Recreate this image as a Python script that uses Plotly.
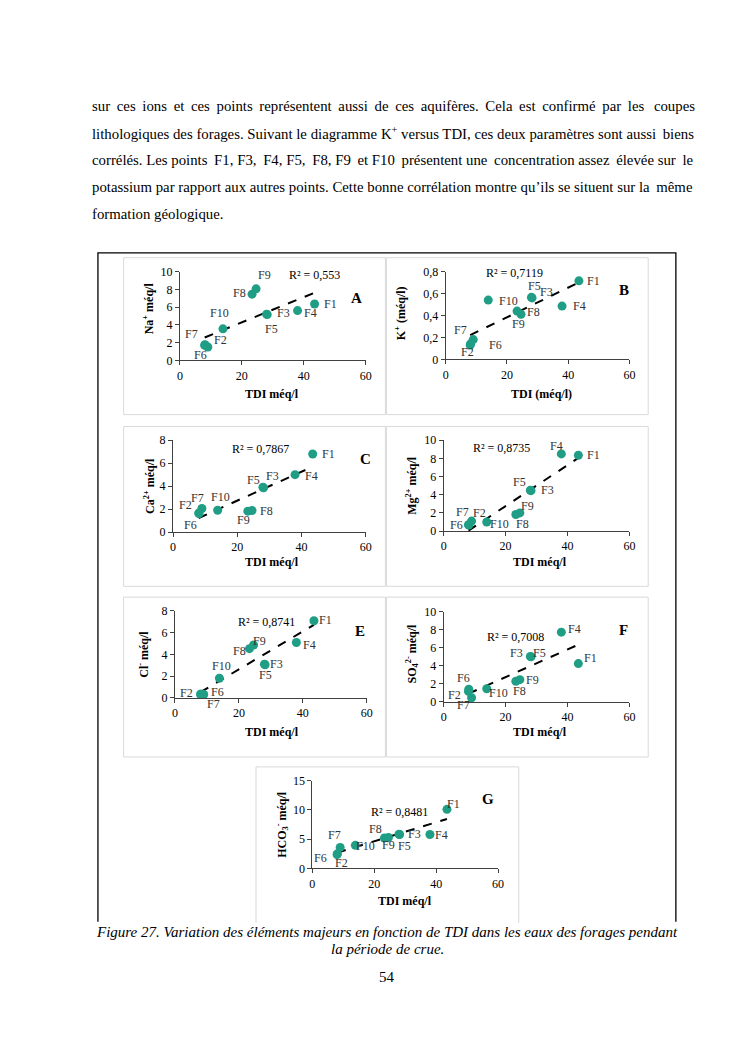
import re
import plotly.graph_objects as go
import numpy as np

W, H = 745, 1053
OFF = 8  # page body margin of the rendered html

# ---------------- data ----------------
wells = ["F1", "F2", "F3", "F4", "F5", "F6", "F7", "F8", "F9", "F10"]
tdi = [43.5, 8.0, 28.0, 38.0, 28.2, 8.1, 9.0, 23.3, 24.6, 13.9]
na = [6.35, 1.7, 5.2, 5.6, 5.15, 1.75, 1.5, 7.45, 8.05, 3.55]
k = [0.715, 0.13, 0.565, 0.485, 0.56, 0.14, 0.18, 0.44, 0.41, 0.54]
ca = [6.8, 1.65, 3.9, 5.0, 3.85, 1.6, 2.05, 1.82, 1.88, 1.9]
mg = [8.35, 0.7, 4.5, 8.5, 4.45, 0.65, 1.1, 1.82, 2.0, 1.0]
cl = [7.1, 0.3, 3.1, 5.1, 3.05, 0.35, 0.3, 4.53, 4.86, 1.8]
so4 = [4.25, 1.15, 5.05, 7.75, 5.0, 1.4, 0.45, 2.28, 2.46, 1.45]
hco3 = [10.1, 2.4, 5.85, 5.8, 5.8, 2.5, 3.6, 5.2, 5.3, 3.95]

r2_text = ["R² = 0,553", "R² = 0,7119", "R² = 0,7867", "R² = 0,8735",
           "R² = 0,8741", "R² = 0,7008", "R² = 0,8481"]
panel_letters = ["A", "B", "C", "D", "E", "F", "G"]
y_titles = ["Na<sup>+</sup> méq/l", "K<sup>+</sup> (méq/l)", "Ca<sup>2+</sup> méq/l",
            "Mg<sup>2+</sup> méq/l", "Cl<sup>-</sup> méq/l",
            "SO<sub>4</sub><sup>2-</sup> méq/l", "HCO<sub>3</sub><sup>-</sup> méq/l"]
x_titles = ["TDI méq/l", "TDI (méq/l)", "TDI méq/l", "TDI méq/l",
            "TDI méq/l", "TDI méq/l", "TDI méq/l"]
series = [na, k, ca, mg, cl, so4, hco3]
y_ranges = [(0, 10), (0, 0.8), (0, 8), (0, 10), (0, 8), (0, 10), (0, 15)]
y_dticks = [2, 0.2, 2, 2, 2, 2, 5]

paragraph = [
    "sur ces ions et ces points représentent aussi de ces aquifères. Cela est confirmé par les coupes",
    "lithologiques des forages. Suivant le diagramme K<sup>+</sup> versus TDI, ces deux paramètres sont aussi biens",
    "corrélés. Les points F1, F3, F4, F5, F8, F9 et F10 présentent une concentration assez élevée sur le",
    "potassium par rapport aux autres points. Cette bonne corrélation montre qu’ils se situent sur la même",
    "formation géologique.",
]
caption = ["Figure 27. Variation des éléments majeurs en fonction de TDI dans les eaux des forages pendant",
           "la période de crue."]
page_no = "54"

# ---------------- layout geometry (page pixels) ----------------
plot_px = [  # x0, x1, ytop, ybottom
    (179, 367, 268, 358),
    (448, 634, 268, 357),
    (172, 367, 439, 532),
    (446, 634, 439, 531),
    (174, 368, 612, 700),
    (446, 634, 613, 704),
    (313, 501, 784, 873),
]
panel_box = [
    (122, 254, 387, 413), (388, 254, 653, 413),
    (122, 425, 387, 587), (388, 425, 653, 587),
    (122, 598, 387, 760), (388, 598, 653, 760),
    (256, 770, 522, 928),
]
ytitle_pos = [(147, 305), (403, 310), (148, 485), (414, 485), (142, 656), (414, 655), (282, 828)]
xtitle_pos = [(272, 392), (545, 392), (272, 562), (543, 562), (272, 735), (543, 735), (407, 906)]
r2_pos = [(43.4, 9.63), (22.6, 0.785), (27.1, 7.28), (18.7, 9.1), (28.6, 7.01), (23.3, 7.24), (28.3, 9.57)]
letter_pos = [(57.0, 7.0), (58.2, 0.628), (60.0, 6.36), (64.0, 10.4), (57.9, 6.16), (58.0, 7.98), (56.8, 11.9)]

label_off = [
    [(16, 0), (16, 5), (17, 1), (13, -2), (4, -14), (-5, -10), (-16, 13), (-13, 1), (8, 14), (-3, 16)],
    [(15, 0), (-3, -7), (15, 5), (17, 0), (2, 12), (25, -1), (-13, 10), (16, -1), (-3, -10), (20, -1)],
    [(16, 0), (-13, 8), (10, 11), (16, -1), (-10, 8), (-9, -11), (-4, 11), (19, 0), (-8, -10), (3, 13)],
    [(15, 0), (11, 12), (17, 0), (-5, 8), (-11, 9), (-12, 0), (-9, 9), (7, -9), (8, 7), (13, -2)],
    [(12, 1), (-14, 2), (12, 0), (13, -3), (0, -10), (17, 2), (10, -9), (-10, -2), (6, 4), (2, 12)],
    [(12, 6), (-14, -4), (-14, 3), (13, 3), (9, 4), (-5, 11), (-8, -7), (4, -10), (13, 0), (12, -4)],
    [(7, 5), (4, -9), (16, 0), (12, 0), (5, -11), (-17, -4), (-6, 12), (-9, 9), (0, -8), (10, -1)],
]


def px(x):
    return (x - OFF) / W


def py(y):
    return 1 - (y - OFF) / H


FONT = "Liberation Serif"
TEAL = "#1f9e85"

# Times / Liberation Serif advance widths (1/1000 em) for justification
_TW = {" ": 250, ".": 250, ",": 250, "’": 333, "'": 180, "-": 333, "+": 564,
       "a": 444, "b": 500, "c": 444, "d": 500, "e": 444, "f": 333, "g": 500, "h": 500, "i": 278,
       "j": 278, "k": 500, "l": 278, "m": 778, "n": 500, "o": 500, "p": 500, "q": 500, "r": 333,
       "s": 389, "t": 278, "u": 500, "v": 500, "w": 722, "x": 500, "y": 500, "z": 444,
       "é": 444, "è": 444, "ê": 444, "à": 444, "ç": 444,
       "C": 667, "D": 722, "F": 556, "I": 333, "K": 722, "L": 611, "S": 556, "T": 611}


def text_width(s, size):
    total = 0.0
    for part in re.split(r"(<sup>.*?</sup>)", s):
        if part.startswith("<sup>"):
            inner = part[5:-6]
            total += 0.7 * sum(_TW.get(c, 500) for c in inner)
        else:
            total += sum(_TW.get(c, 500) for c in part)
    return total * size / 1000.0


def justify(line, width, size):
    gaps = line.count(" ")
    extra = width - text_width(line, size)
    thin = 0.2 * size
    n = int(round(extra / thin)) if extra > 0 else 0
    words = line.split(" ")
    out = words[0]
    for g in range(gaps):
        cnt = (g + 1) * n // gaps - g * n // gaps
        out += " " + "\u2009" * cnt + words[g + 1]
    return out


def paper_text(x, y, text, size=12, angle=0, xanchor="center"):
    return dict(x=px(x), y=py(y), xref="paper", yref="paper", text=text, showarrow=False,
                xanchor=xanchor, yanchor="middle", textangle=angle,
                font=dict(family=FONT, size=size, color="black"))


fig = go.Figure()
layout = dict(
    width=W, height=H, margin=dict(l=0, r=0, t=0, b=0),
    paper_bgcolor="white", plot_bgcolor="white",
    showlegend=False, separators=", ",
    font=dict(family=FONT, size=12, color="black"),
)
annotations = []
shapes = []

for i in range(7):
    n = "" if i == 0 else str(i + 1)
    xa, ya = "x" + n, "y" + n
    x0, x1, yt, yb = plot_px[i]
    axis_common = dict(showgrid=False, zeroline=False, showline=True, linecolor="#404040", linewidth=1,
                       ticks="outside", ticklen=4, tickcolor="#404040", tick0=0,
                       tickfont=dict(family=FONT, size=12, color="black"), fixedrange=True)
    layout["xaxis" + n] = dict(domain=[px(x0), px(x1)], range=[0, 60], anchor=ya, dtick=20, **axis_common)
    layout["yaxis" + n] = dict(domain=[py(yb), py(yt)], range=list(y_ranges[i]), anchor=xa,
                               dtick=y_dticks[i], **axis_common)
    yv = series[i]
    # linear trend line (least squares fit of the panel's data)
    slope, icpt = np.polyfit(tdi, yv, 1)
    xs = np.array([min(tdi), max(tdi)])
    fig.add_trace(go.Scatter(x=xs, y=slope * xs + icpt, mode="lines", xaxis=xa, yaxis=ya,
                             line=dict(color="black", width=2, dash="dash"), cliponaxis=False,
                             hoverinfo="skip"))
    fig.add_trace(go.Scatter(x=tdi, y=yv, mode="markers", xaxis=xa, yaxis=ya,
                             marker=dict(color=TEAL, size=9), cliponaxis=False, text=wells))
    for j, w in enumerate(wells):
        dx, dy = label_off[i][j]
        annotations.append(dict(x=tdi[j], y=yv[j], xref=xa, yref=ya, text=w, showarrow=False,
                                xanchor="center", yanchor="middle",
                                xshift=dx, yshift=dy, font=dict(family=FONT, size=12, color="#333333")))
    annotations.append(dict(x=r2_pos[i][0], y=r2_pos[i][1], xref=xa, yref=ya, text=r2_text[i],
                            xanchor="center", yanchor="middle",
                            showarrow=False, font=dict(family=FONT, size=12, color="black")))
    annotations.append(dict(x=letter_pos[i][0], y=letter_pos[i][1], xref=xa, yref=ya,
                            text="<b>" + panel_letters[i] + "</b>", showarrow=False,
                            xanchor="center", yanchor="middle",
                            font=dict(family=FONT, size=15, color="black")))
    annotations.append(paper_text(ytitle_pos[i][0], ytitle_pos[i][1], "<b>" + y_titles[i] + "</b>", angle=-90))
    annotations.append(paper_text(xtitle_pos[i][0], xtitle_pos[i][1], "<b>" + x_titles[i] + "</b>"))
    bx0, by0, bx1, by1 = panel_box[i]
    if i < 6:
        shapes.append(dict(type="rect", xref="paper", yref="paper", x0=px(bx0), x1=px(bx1),
                           y0=py(by1), y1=py(by0), line=dict(color="#d9d9d9", width=1), layer="below"))
    else:
        shapes.append(dict(type="path", xref="paper", yref="paper",
                           path=f"M {px(bx0)},{py(by1)} L {px(bx0)},{py(by0)} L {px(bx1)},{py(by0)} L {px(bx1)},{py(by1)}",
                           line=dict(color="#d9d9d9", width=1), layer="below"))

# outer frame (open at the bottom)
shapes.append(dict(type="path", xref="paper", yref="paper",
                   path=f"M {px(96)},{py(927)} L {px(96)},{py(249)} L {px(681)},{py(249)} L {px(681)},{py(927)}",
                   line=dict(color="black", width=1.3)))

# paragraph text (justified lines, last line left aligned)
TEXT_L, TEXT_R, TSIZE = 88, 690, 14.8
for li, line in enumerate(paragraph):
    txt = justify(line, TEXT_R - TEXT_L, TSIZE) if li < len(paragraph) - 1 else line
    annotations.append(paper_text(TEXT_L, 100 + 27.3 * li, txt, size=TSIZE, xanchor="left"))
# caption
for li, line in enumerate(caption):
    annotations.append(paper_text(389, 937 + 18 * li, "<i>" + line + "</i>", size=15))
annotations.append(paper_text(389, 983, page_no, size=15))

layout["annotations"] = annotations
layout["shapes"] = shapes
fig.update_layout(**layout)
fig.write_html("out.html")
